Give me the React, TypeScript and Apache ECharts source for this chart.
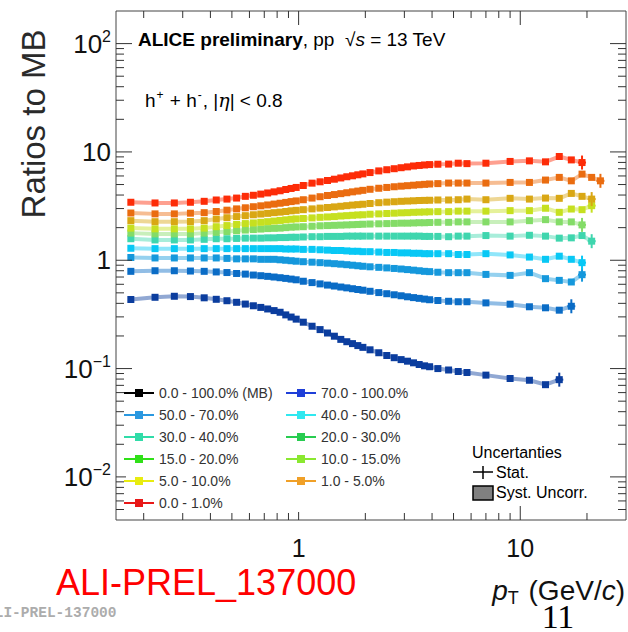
import React, { useEffect, useRef } from 'react';
import * as echarts from 'echarts';

// pT bin centres (GeV/c)
const pt = [
  0.175, 0.225, 0.275, 0.325, 0.375, 0.425, 0.475, 0.525, 0.575, 0.625, 0.675, 0.725, 0.775, 0.825, 0.875, 0.925, 0.975,
  1.05, 1.15, 1.25, 1.35, 1.45, 1.55, 1.65, 1.75, 1.85, 1.95,
  2.1, 2.3, 2.5, 2.7, 2.9, 3.1, 3.3, 3.5, 3.7, 3.9,
  4.25, 4.75, 5.25, 5.75, 7, 9, 11, 13, 15, 17, 19, 21, 23,
];

const v70_100 = [
  0.434, 0.455, 0.465, 0.462, 0.45, 0.436, 0.423, 0.409, 0.394, 0.38, 0.367, 0.355, 0.343, 0.331, 0.313, 0.299, 0.286,
  0.268, 0.246, 0.229, 0.213, 0.199, 0.186, 0.177, 0.17, 0.163, 0.157,
  0.149, 0.14, 0.132, 0.126, 0.121, 0.117, 0.113, 0.109, 0.106, 0.104,
  0.1, 0.097, 0.094, 0.092, 0.087, 0.081, 0.078, 0.071, 0.079,
];
const v50_70 = [
  0.79, 0.8, 0.8, 0.795, 0.79, 0.78, 0.77, 0.755, 0.745, 0.73, 0.72, 0.71, 0.7, 0.69, 0.68, 0.67, 0.66,
  0.64, 0.622, 0.605, 0.59, 0.578, 0.566, 0.556, 0.546, 0.537, 0.529,
  0.517, 0.503, 0.491, 0.48, 0.47, 0.46, 0.452, 0.445, 0.438, 0.432,
  0.425, 0.418, 0.414, 0.414, 0.404, 0.393, 0.372, 0.364, 0.346, 0.376,
];
const v40_50 = [
  1.06, 1.05, 1.05, 1.05, 1.05, 1.05, 1.04, 1.03, 1.03, 1.03, 1.02, 1.02, 1.02, 1.01, 1.0, 0.99, 0.98,
  0.97, 0.96, 0.95, 0.94, 0.93, 0.92, 0.91, 0.9, 0.89, 0.88,
  0.87, 0.86, 0.85, 0.84, 0.83, 0.82, 0.81, 0.8, 0.79, 0.785,
  0.775, 0.768, 0.768, 0.768, 0.74, 0.725, 0.768, 0.676, 0.652, 0.63, 0.736,
];
const v30_40 = [
  1.29, 1.28, 1.28, 1.28, 1.28, 1.28, 1.28, 1.28, 1.28, 1.28, 1.28, 1.28, 1.28, 1.28, 1.27, 1.27, 1.27,
  1.26, 1.26, 1.25, 1.24, 1.23, 1.23, 1.22, 1.21, 1.21, 1.2,
  1.2, 1.19, 1.18, 1.18, 1.17, 1.17, 1.16, 1.16, 1.15, 1.15,
  1.15, 1.15, 1.13, 1.13, 1.15, 1.12, 1.07, 1.02, 1.09, 1.02, 0.95,
];
const v20_30 = [
  1.58, 1.54, 1.54, 1.54, 1.56, 1.58, 1.58, 1.59, 1.6, 1.6, 1.6, 1.61, 1.61, 1.62, 1.62, 1.63, 1.63,
  1.64, 1.65, 1.65, 1.66, 1.66, 1.66, 1.67, 1.67, 1.67, 1.67,
  1.67, 1.67, 1.67, 1.67, 1.67, 1.67, 1.67, 1.67, 1.66, 1.66,
  1.66, 1.65, 1.67, 1.67, 1.69, 1.67, 1.7, 1.67, 1.6, 1.61, 1.69, 1.5,
];
const v15_20 = [
  1.78, 1.75, 1.75, 1.75, 1.78, 1.81, 1.84, 1.87, 1.9, 1.92, 1.94, 1.96, 1.97, 1.98, 2.0, 2.02, 2.03,
  2.04, 2.06, 2.08, 2.09, 2.1, 2.11, 2.12, 2.13, 2.14, 2.15,
  2.16, 2.17, 2.18, 2.19, 2.2, 2.2, 2.21, 2.22, 2.22, 2.23,
  2.24, 2.24, 2.26, 2.26, 2.26, 2.26, 2.32, 2.37, 2.26, 2.26, 2.12,
];
const v10_15 = [
  1.98, 1.95, 1.95, 1.95, 1.98, 2.04, 2.09, 2.14, 2.18, 2.21, 2.24, 2.27, 2.3, 2.33, 2.36, 2.39, 2.41,
  2.43, 2.46, 2.49, 2.51, 2.53, 2.56, 2.58, 2.6, 2.62, 2.63,
  2.66, 2.68, 2.7, 2.72, 2.74, 2.75, 2.77, 2.78, 2.79, 2.8,
  2.81, 2.81, 2.84, 2.84, 2.84, 2.87, 2.87, 3.02, 2.77, 2.97, 2.93, 3.19,
];
const v5_10 = [
  2.32, 2.27, 2.27, 2.28, 2.32, 2.4, 2.47, 2.53, 2.58, 2.63, 2.67, 2.71, 2.75, 2.78, 2.82, 2.86, 2.89,
  2.93, 2.98, 3.03, 3.07, 3.11, 3.15, 3.19, 3.23, 3.26, 3.29,
  3.34, 3.4, 3.44, 3.47, 3.5, 3.52, 3.54, 3.56, 3.57, 3.58,
  3.6, 3.6, 3.62, 3.67, 3.62, 3.73, 3.67, 3.75, 3.73, 4.14, 3.89, 3.67,
];
const v1_5 = [
  2.73, 2.68, 2.68, 2.72, 2.75, 2.82, 2.9, 2.98, 3.05, 3.12, 3.18, 3.24, 3.3, 3.36, 3.42, 3.48, 3.53,
  3.62, 3.75, 3.86, 3.96, 4.04, 4.12, 4.2, 4.28, 4.35, 4.42,
  4.52, 4.62, 4.7, 4.77, 4.83, 4.88, 4.93, 4.98, 5.02, 5.06,
  5.1, 5.16, 5.16, 5.16, 5.16, 5.23, 5.23, 5.5, 5.82, 5.41, 6.24, 5.82, 5.41,
];
const v0_1 = [
  3.43, 3.38, 3.38, 3.43, 3.5, 3.6, 3.67, 3.75, 3.89, 3.98, 4.08, 4.18, 4.28, 4.38, 4.5, 4.6, 4.7,
  4.9, 5.15, 5.3, 5.45, 5.6, 5.75, 5.9, 6.02, 6.15, 6.27,
  6.45, 6.68, 6.85, 7.0, 7.15, 7.28, 7.42, 7.5, 7.58, 7.64,
  7.7, 7.72, 7.87, 7.8, 7.87, 8.17, 8.27, 8.1, 9.07, 8.44, 7.98,
];

const seriesNames = [
  '70.0 - 100.0%', '50.0 - 70.0%', '40.0 - 50.0%', '30.0 - 40.0%', '20.0 - 30.0%',
  '15.0 - 20.0%', '10.0 - 15.0%', '5.0 - 10.0%', '1.0 - 5.0%', '0.0 - 1.0%',
];
const seriesValues = [v70_100, v50_70, v40_50, v30_40, v20_30, v15_20, v10_15, v5_10, v1_5, v0_1];
const plotColors = [
  '#0b3d9e', '#0a6cc6', '#1598dc', '#08c8f5', '#3fd6ae',
  '#84dc68', '#c6e020', '#d9a714', '#ea6c10', '#fd2c08',
];

const mbName = '0.0 - 100.0% (MB)';
const legendCol1 = [mbName, '50.0 - 70.0%', '30.0 - 40.0%', '15.0 - 20.0%', '5.0 - 10.0%', '0.0 - 1.0%'];
const legendCol2 = ['70.0 - 100.0%', '40.0 - 50.0%', '20.0 - 30.0%', '10.0 - 15.0%', '1.0 - 5.0%'];
const legendColors: Record<string, string> = {
  [mbName]: '#000000',
  '70.0 - 100.0%': '#1f3fd8',
  '50.0 - 70.0%': '#2a98e0',
  '40.0 - 50.0%': '#30e8f0',
  '30.0 - 40.0%': '#30dca8',
  '20.0 - 30.0%': '#28cc50',
  '15.0 - 20.0%': '#30e018',
  '10.0 - 15.0%': '#8ae830',
  '5.0 - 10.0%': '#e8ec10',
  '1.0 - 5.0%': '#f0a028',
  '0.0 - 1.0%': '#e81818',
};

const xMajorTicks = [1, 10];
const xMinorTicks = [0.2, 0.3, 0.4, 0.5, 0.6, 0.7, 0.8, 0.9, 2, 3, 4, 5, 6, 7, 8, 9, 20];
const yMajorTicks = [0.01, 0.1, 1, 10, 100];
const yMinorTicks = [
  0.005, 0.006, 0.007, 0.008, 0.009,
  0.02, 0.03, 0.04, 0.05, 0.06, 0.07, 0.08, 0.09,
  0.2, 0.3, 0.4, 0.5, 0.6, 0.7, 0.8, 0.9,
  2, 3, 4, 5, 6, 7, 8, 9,
  20, 30, 40, 50, 60, 70, 80, 90,
];

const FONT = 'Liberation Sans, Arial, Helvetica, sans-serif';

export default function App() {
  const ref = useRef<HTMLDivElement>(null);

  useEffect(() => {
    document.body.style.margin = '0';
    if (!ref.current) return;
    const chart = echarts.init(ref.current, null, { renderer: 'svg' });

    const lineSeries: any[] = seriesValues.map((vals, k) => ({
      type: 'line',
      name: seriesNames[k],
      data: vals.map((v, i) => [pt[i], v]),
      symbol: 'rect',
      symbolSize: 7,
      color: plotColors[k],
      itemStyle: { color: plotColors[k] },
      lineStyle: { width: 4, opacity: 0.45, color: plotColors[k] },
      emphasis: { disabled: true },
      z: 2,
    }));

    lineSeries.push({
      type: 'line',
      name: mbName,
      data: [],
      symbol: 'rect',
      color: '#000',
      itemStyle: { color: '#000' },
      lineStyle: { color: '#000' },
    });

    const tickData = [
      ...xMajorTicks.map((v) => [v, 1, 0]),
      ...xMinorTicks.map((v) => [v, 1, 1]),
      ...yMajorTicks.map((v) => [1, v, 2]),
      ...yMinorTicks.map((v) => [1, v, 3]),
    ];

    lineSeries.push({
      type: 'custom',
      name: 'ticks',
      silent: true,
      z: 3,
      data: tickData,
      renderItem: (params: any, api: any) => {
        const kind = api.value(2);
        const cs = params.coordSys;
        const st = { stroke: '#333', lineWidth: 1 };
        if (kind < 2) {
          const px = api.coord([api.value(0), 1])[0];
          const len = kind === 0 ? 14 : 7;
          const b = cs.y + cs.height;
          return {
            type: 'group',
            children: [
              { type: 'line', shape: { x1: px, y1: b, x2: px, y2: b - len }, style: st },
              { type: 'line', shape: { x1: px, y1: cs.y, x2: px, y2: cs.y + len }, style: st },
            ],
          };
        }
        const py = api.coord([1, api.value(1)])[1];
        const len = kind === 2 ? 16 : 8;
        const r = cs.x + cs.width;
        return {
          type: 'group',
          children: [
            { type: 'line', shape: { x1: cs.x, y1: py, x2: cs.x + len, y2: py }, style: st },
            { type: 'line', shape: { x1: r, y1: py, x2: r - len, y2: py }, style: st },
          ],
        };
      },
    });

    const lastPoints = seriesValues.map((vals, k) => [pt[vals.length - 1], vals[vals.length - 1], k]);
    lineSeries.push({
      type: 'custom',
      name: 'stat',
      silent: true,
      z: 3,
      data: lastPoints,
      renderItem: (params: any, api: any) => {
        const p = api.coord([api.value(0), api.value(1)]);
        const c = plotColors[api.value(2)];
        return {
          type: 'group',
          children: [
            { type: 'line', shape: { x1: p[0], y1: p[1] - 7, x2: p[0], y2: p[1] + 7 }, style: { stroke: c, lineWidth: 2 } },
            { type: 'line', shape: { x1: p[0] - 4, y1: p[1], x2: p[0] + 4, y2: p[1] }, style: { stroke: c, lineWidth: 2 } },
          ],
        };
      },
    });

    const legendText = { fontSize: 14, color: '#333', fontFamily: FONT, lineHeight: 14 };
    const legendItem = (name: string) => ({
      name,
      itemStyle: { color: legendColors[name] },
      lineStyle: { color: legendColors[name], width: 2, opacity: 1 },
      textStyle: legendText,
    });
    const legendBase = {
      orient: 'vertical',
      top: 386,
      padding: 0,
      itemWidth: 30,
      itemHeight: 10,
      itemGap: 8,
      selectedMode: false,
      z: 20,
      textStyle: legendText,
    };

    const supStyle = { fontSize: 16, fontFamily: FONT, color: '#111', padding: [0, 0, 14, 0] };

    const option: any = {
      animation: false,
      backgroundColor: '#fff',
      grid: {
        left: 116,
        top: 11,
        width: 510,
        height: 509,
        show: true,
        borderColor: '#444',
        borderWidth: 1,
        backgroundColor: 'transparent',
        outerBoundsMode: 'none',
        containLabel: false,
      },
      xAxis: {
        type: 'log',
        logBase: 10,
        min: 0.15,
        max: 30,
        axisLine: { show: false },
        axisTick: { show: false },
        splitLine: { show: false },
        minorTick: { show: false },
        axisLabel: {
          showMinLabel: false,
          showMaxLabel: false,
          fontSize: 25,
          fontFamily: FONT,
          color: '#111',
          margin: 15,
          formatter: (v: number) => {
            const e = Math.round(Math.log10(v));
            if (Math.abs(Math.log10(v) - e) > 1e-6) return '';
            return e === 0 ? '1' : e === 1 ? '10' : '';
          },
        },
      },
      yAxis: {
        type: 'log',
        logBase: 10,
        min: 0.004,
        max: 200,
        axisLine: { show: false },
        axisTick: { show: false },
        splitLine: { show: false },
        minorTick: { show: false },
        axisLabel: {
          showMinLabel: false,
          showMaxLabel: false,
          fontSize: 26,
          fontFamily: FONT,
          color: '#111',
          margin: 5,
          formatter: (v: number) => {
            const e = Math.round(Math.log10(v));
            if (Math.abs(Math.log10(v) - e) > 1e-6) return '';
            if (e === 0) return '1';
            if (e === 1) return '10';
            if (e === 2) return '10{sup|2}';
            if (e === -1) return '10{sup|\u22121}';
            if (e === -2) return '10{sup|\u22122}';
            return '';
          },
          rich: { sup: supStyle },
        },
      },
      legend: [
        { ...legendBase, left: 123, data: legendCol1.map(legendItem) },
        { ...legendBase, left: 285, data: legendCol2.map(legendItem) },
      ],
      series: lineSeries,
      graphic: [
        {
          type: 'rect',
          z: 10,
          shape: { x: 126, y: 378, width: 282, height: 134 },
          style: { fill: '#ffffff' },
          silent: true,
        },
        {
          type: 'text',
          x: 138,
          y: 39,
          z: 10,
          style: {
            text: '{b|ALICE preliminary}{n|, pp  \u221A}{i|s}{n| = 13 TeV}',
            verticalAlign: 'middle',
            align: 'left',
            rich: {
              b: { fontSize: 19, fontWeight: 'bold', fontFamily: FONT, fill: '#000' },
              n: { fontSize: 19, fontFamily: FONT, fill: '#000' },
              i: { fontSize: 19, fontStyle: 'italic', fontFamily: FONT, fill: '#000' },
            },
          },
        },
        {
          type: 'text',
          x: 145,
          y: 100,
          z: 10,
          style: {
            text: '{n|h}{sup|+}{n| + h}{sup|-}{n|, |}{i|\u03B7}{n|| < 0.8}',
            verticalAlign: 'middle',
            align: 'left',
            rich: {
              n: { fontSize: 19, fontFamily: FONT, fill: '#000' },
              i: { fontSize: 19, fontStyle: 'italic', fontFamily: 'DejaVu Serif, serif', fill: '#000' },
              sup: { fontSize: 12, fontFamily: FONT, fill: '#000', padding: [0, 1, 11, 1] },
            },
          },
        },
        {
          type: 'text',
          x: 472,
          y: 452,
          z: 10,
          style: { text: 'Uncertanties', fontSize: 16, fontFamily: FONT, fill: '#000', verticalAlign: 'middle' },
        },
        { type: 'line', z: 10, shape: { x1: 473, y1: 472, x2: 493, y2: 472 }, style: { stroke: '#000', lineWidth: 1.5 } },
        { type: 'line', z: 10, shape: { x1: 483, y1: 466, x2: 483, y2: 479 }, style: { stroke: '#000', lineWidth: 1.5 } },
        {
          type: 'text',
          x: 496,
          y: 472,
          z: 10,
          style: { text: 'Stat.', fontSize: 16, fontFamily: FONT, fill: '#000', verticalAlign: 'middle' },
        },
        {
          type: 'rect',
          z: 10,
          shape: { x: 473, y: 486, width: 20, height: 14 },
          style: { fill: '#808080', stroke: '#000', lineWidth: 1.5 },
        },
        {
          type: 'text',
          x: 496,
          y: 492,
          z: 10,
          style: { text: 'Syst. Uncorr.', fontSize: 16, fontFamily: FONT, fill: '#000', verticalAlign: 'middle' },
        },
        {
          type: 'text',
          x: 33,
          y: 124,
          rotation: Math.PI / 2,
          z: 10,
          style: {
            text: 'Ratios to MB',
            fontSize: 33,
            fontFamily: FONT,
            fill: '#2a2a2a',
            align: 'center',
            verticalAlign: 'middle',
          },
        },
        {
          type: 'text',
          x: 625,
          y: 590,
          z: 10,
          style: {
            text: '{i|p}{sub|T}{n| (GeV/}{i|c}{n|)}',
            align: 'right',
            verticalAlign: 'middle',
            rich: {
              n: { fontSize: 28, fontFamily: FONT, fill: '#111' },
              i: { fontSize: 28, fontStyle: 'italic', fontFamily: FONT, fill: '#111' },
              sub: { fontSize: 18, fontFamily: FONT, fill: '#111', padding: [16, 2, 0, 0] },
            },
          },
        },
        {
          type: 'text',
          x: 56,
          y: 582,
          z: 10,
          style: { text: 'ALI-PREL_137000', fontSize: 36, fontFamily: FONT, fill: '#ff0000', verticalAlign: 'middle' },
        },
        {
          type: 'text',
          x: -14,
          y: 613,
          z: 10,
          style: {
            text: 'ALI-PREL-137000',
            fontSize: 14.5,
            fontWeight: 'bold',
            fontFamily: 'Liberation Mono, DejaVu Sans Mono, monospace',
            fill: '#acacac',
            verticalAlign: 'middle',
          },
        },
        {
          type: 'text',
          x: 558,
          y: 616,
          z: 10,
          style: {
            text: '11',
            fontSize: 34,
            fontFamily: 'Liberation Serif, Times New Roman, serif',
            fill: '#000',
            align: 'center',
            verticalAlign: 'middle',
          },
        },
      ],
    };

    chart.setOption(option);
    return () => chart.dispose();
  }, []);

  return <div ref={ref} style={{ width: 628, height: 632 }} />;
}
